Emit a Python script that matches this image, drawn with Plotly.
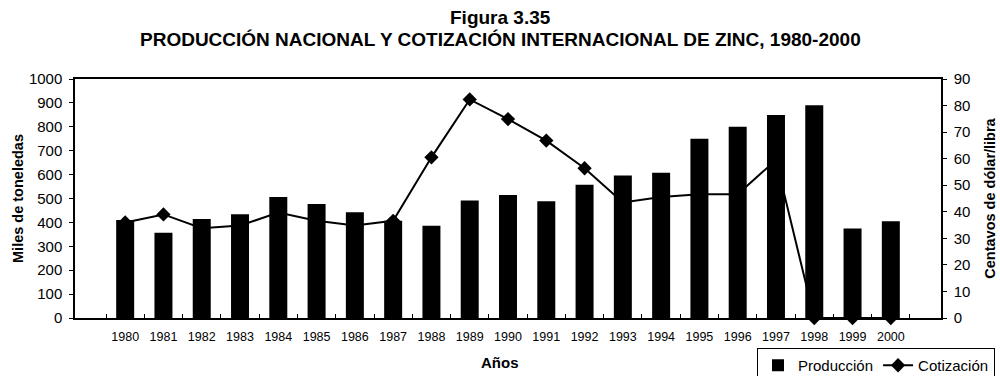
import plotly.graph_objects as go

# Años
years = [str(y) for y in range(1980, 2001)]

# Producción nacional de zinc (miles de toneladas)
produccion = [410, 357, 414, 434, 506, 477, 442, 407, 386, 492,
              515, 488, 558, 596, 608, 750, 800, 849, 890, 374, 405]

# Cotización internacional (centavos de dólar por libra)
cotizacion = [36.0, 39.0, 33.8, 34.8, 39.7, 36.6, 34.8, 36.6, 60.5, 82.3,
              74.9, 66.8, 56.4, 43.5, 45.6, 46.6, 46.6, 59.5, 0, 0, 0]

FONT = "Liberation Sans, Arial, sans-serif"
W, H = 1000, 376
ML, MR, MT, MB = 75, 59, 79, 58
PLOT_W = W - ML - MR
PLOT_H = H - MT - MB


def paper_x(px):
    """Convert a pixel column to paper x."""
    return (px - ML) / PLOT_W


def paper_y(px):
    """Convert a pixel row (from the top of the page) to paper y."""
    return (H - MB - px) / PLOT_H


fig = go.Figure()

# Line on the primary (right-hand) axis so the bars overlay it
fig.add_trace(go.Scatter(
    x=years, y=cotizacion, name="Cotización",
    mode="lines+markers",
    line=dict(color="black", width=2),
    marker=dict(symbol="diamond", size=11, color="black"),
    cliponaxis=False,
    yaxis="y",
))

fig.add_trace(go.Bar(
    x=years, y=produccion, name="Producción",
    marker=dict(color="black", line=dict(width=0)),
    yaxis="y2",
))

title_font = dict(size=19, family=FONT, color="black")
fig.add_annotation(
    text="<b>Figura 3.35</b>", xref="paper", yref="paper",
    x=paper_x(500), y=paper_y(17), xanchor="center", yanchor="middle",
    showarrow=False, font=title_font,
)
fig.add_annotation(
    text="<b>PRODUCCIÓN NACIONAL Y COTIZACIÓN INTERNACIONAL DE ZINC, 1980-2000</b>",
    xref="paper", yref="paper",
    x=paper_x(500), y=paper_y(40), xanchor="center", yanchor="middle",
    showarrow=False, font=title_font,
)
# x-axis title
fig.add_annotation(
    text="<b>Años</b>", xref="paper", yref="paper",
    x=paper_x(500), y=paper_y(362), xanchor="center", yanchor="middle",
    showarrow=False, font=dict(size=15, family=FONT, color="black"),
)

fig.update_layout(
    width=W, height=H,
    margin=dict(l=ML, r=MR, t=MT, b=MB, autoexpand=False),
    paper_bgcolor="white", plot_bgcolor="white",
    font=dict(family=FONT, color="black"),
    bargap=0.53,
    showlegend=True,
    legend=dict(
        orientation="h",
        xref="container", yref="container",
        x=0.995, xanchor="right",
        y=(H - 348) / H, yanchor="top",
        bordercolor="black", borderwidth=1,
        font=dict(size=15, family=FONT, color="black"),
        traceorder="reversed",
        itemwidth=30,
        bgcolor="white",
    ),
    xaxis=dict(
        type="category",
        automargin=False,
        showline=True, linecolor="black", linewidth=2,
        mirror=True,
        ticks="inside", ticklen=4, tickcolor="black",
        tickson="boundaries",
        ticklabelstandoff=6,
        tickfont=dict(size=12.5, family=FONT, color="black"),
        showgrid=False,
    ),
    yaxis=dict(
        side="right",
        automargin=False,
        range=[0, 90], dtick=10,
        showline=True, linecolor="black", linewidth=1.5,
        ticks="outside", ticklen=4, tickcolor="black",
        ticklabelstandoff=4,
        tickfont=dict(size=15, family=FONT, color="black"),
        title=dict(text="<b>Centavos de dólar/libra</b>", font=dict(size=14.5, family=FONT)),
        showgrid=False, zeroline=False,
    ),
    yaxis2=dict(
        side="left", overlaying="y",
        automargin=False,
        range=[0, 1000], dtick=100,
        showline=True, linecolor="black", linewidth=1.5,
        ticks="outside", ticklen=4, tickcolor="black",
        ticklabelstandoff=4,
        tickfont=dict(size=15, family=FONT, color="black"),
        title=dict(text="<b>Miles de toneledas</b>", font=dict(size=14.5, family=FONT),
                   standoff=2),
        showgrid=False, zeroline=False,
    ),
)

fig.write_html("out.html")
